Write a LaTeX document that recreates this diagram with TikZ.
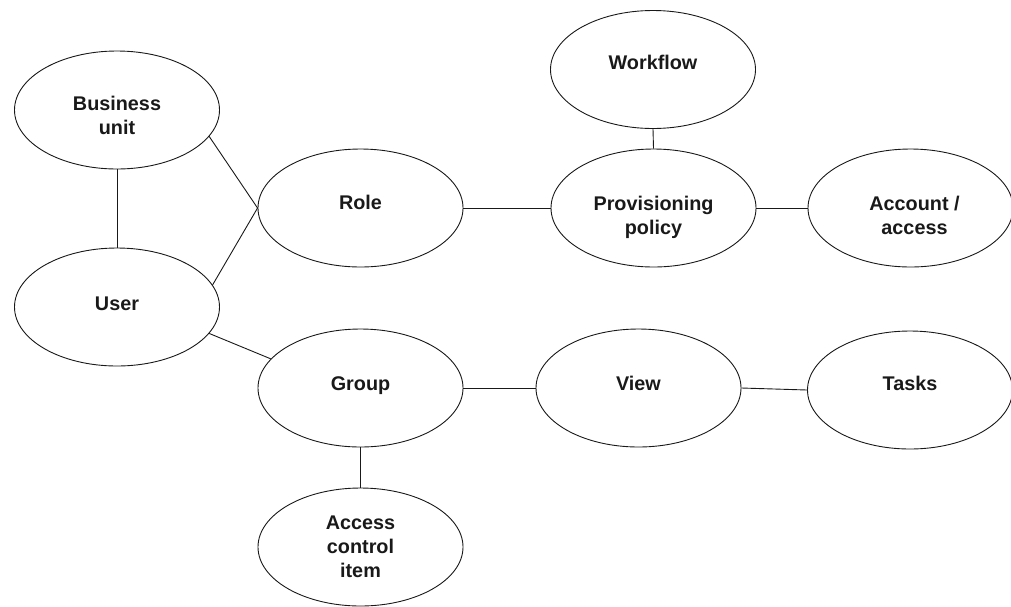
\documentclass[tikz,border=0pt]{standalone}
\usepackage{fontspec}
\setmainfont{Liberation Sans}
\usetikzlibrary{shapes.geometric}
\begin{document}
\begin{tikzpicture}[x=1pt,y=-1pt,
  ent/.style={ellipse, draw=black!90, line width=0.9pt, minimum width=205pt, minimum height=118pt, inner sep=0pt},
  txt/.style={font=\bfseries\fontsize{19.8}{24}\selectfont, align=center, inner sep=0pt, text height=14pt, text depth=4pt, text=black!90},
  link/.style={line width=0.9pt, draw=black!90}]
\useasboundingbox (0,0) rectangle (1011,606);
\node[ent, label={[txt,yshift=-19pt]center:{Business\\unit}}] (bu) at (117,110) {};
\node[ent, label={[txt,yshift=2pt]center:{User}}] (user) at (117,307) {};
\node[ent, label={[txt,yshift=4pt]center:{Role}}] (role) at (360.5,208) {};
\node[ent, label={[txt,yshift=-21pt]center:{Provisioning\\policy}}] (prov) at (653.5,208) {};
\node[ent, label={[txt,yshift=5pt]center:{Workflow}}] (wf) at (653,69.5) {};
\node[ent, label={[txt,yshift=-21pt,xshift=4pt]center:{Account /\\access}}] (acct) at (910.5,208) {};
\node[ent, label={[txt,yshift=3pt]center:{Group}}] (group) at (360.5,388) {};
\node[ent, label={[txt,yshift=3pt]center:{View}}] (view) at (638.5,388) {};
\node[ent, label={[txt,yshift=5pt]center:{Tasks}}] (tasks) at (910,390) {};
\node[ent, label={[txt,yshift=-25pt]center:{Access\\control\\item}}] (aci) at (360.5,547) {};
\draw[link] (bu.south) -- (user.north);
\draw[link] (bu.-16) -- (role.west);
\draw[link] (user.13) -- (role.west);
\draw[link] (user.-16) -- (group.162);
\draw[link] (role.east) -- (prov.west);
\draw[link] (wf.south) -- (prov.north);
\draw[link] (prov.east) -- (acct.west);
\draw[link] (group.east) -- (view.west);
\draw[link] (view.east) -- (tasks.west);
\draw[link] (group.south) -- (aci.north);
\end{tikzpicture}
\end{document}
